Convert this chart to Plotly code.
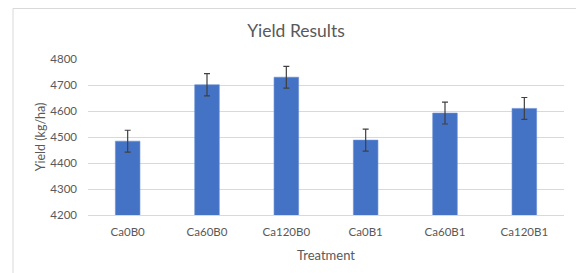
import plotly.graph_objects as go

categories = ["Ca0B0", "Ca60B0", "Ca120B0", "Ca0B1", "Ca60B1", "Ca120B1"]
yield_values = [4484, 4701, 4730, 4488, 4592, 4610]
error_values = [42, 43, 42, 42, 42, 42]
y_ticks = [4200, 4300, 4400, 4500, 4600, 4700, 4800]

font_family = "Lato, 'Open Sans', sans-serif"
text_color = "#595959"

W, H = 576, 265
L, R, T, B = 80, 20, 51, 58
PW, PH = W - L - R, H - T - B

fig = go.Figure(
    go.Bar(
        x=categories,
        y=yield_values,
        marker=dict(color="#4472C4", line=dict(color="#6a8fd4", width=0.6)),
        error_y=dict(type="data", array=error_values, color="#404040", thickness=1.2, width=3),
        width=0.31,
    )
)

fig.update_layout(
    width=W,
    height=H,
    margin=dict(l=L, r=R, t=T, b=B),
    paper_bgcolor="white",
    plot_bgcolor="white",
    showlegend=False,
    font=dict(family=font_family, color=text_color, size=11.5),
    title=dict(
        text="Yield Results",
        x=288 / W,
        xanchor="center",
        y=1 - 23 / H,
        yanchor="middle",
        font=dict(size=17.5, color=text_color, family=font_family),
    ),
    shapes=[
        dict(
            type="rect", xref="paper", yref="paper",
            x0=(5 - L) / PW, x1=(571 - L) / PW,
            y0=-0.5, y1=(T + PH - 0.5) / PH,
            line=dict(color="#d9d9d9", width=1),
            fillcolor="rgba(0,0,0,0)",
            layer="below",
        )
    ],
)

fig.update_xaxes(
    showline=True, linecolor="#d9d9d9", linewidth=1,
    ticks="", ticklabelstandoff=6, tickfont=dict(size=11.5, color=text_color),
    title=dict(text="Treatment", font=dict(size=13, color=text_color), standoff=14),
)
fig.update_yaxes(
    range=[4200, 4800],
    tickvals=y_ticks,
    showgrid=True, gridcolor="#d9d9d9", gridwidth=1,
    zeroline=False, showline=False,
    ticks="", ticklabelstandoff=10,
    tickfont=dict(size=11.5, color=text_color),
    title=dict(text="Yield (kg/ha)", font=dict(size=12.5, color=text_color), standoff=1),
)

fig.write_html("out.html")
